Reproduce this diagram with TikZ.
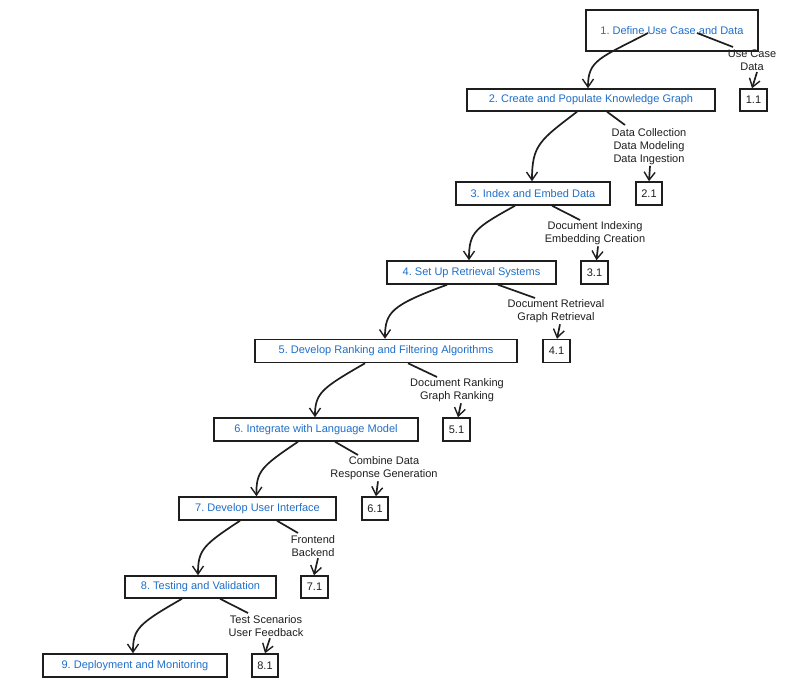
\documentclass[tikz,border=0pt]{standalone}
\usepackage{fontspec}
\setmainfont{Liberation Sans}
\frenchspacing
\usetikzlibrary{arrows.meta,calc}
\definecolor{stepblue}{RGB}{30,110,200}
\definecolor{ink}{RGB}{30,30,30}
\tikzset{
  stepbox/.style={draw=ink, line width=1.5pt, minimum height=23pt, inner sep=0pt, text=stepblue, font=\fontsize{11}{13}\selectfont},
  subbox/.style={draw=ink, line width=1.5pt, minimum width=27pt, minimum height=23pt, inner sep=0pt, text=ink, font=\fontsize{11}{13}\selectfont},
  sublabel/.style={align=center, inner sep=0pt, text=ink, font=\fontsize{11}{13}\selectfont},
  mainarrow/.style={draw=ink, line width=1.7pt, -{Straight Barb[length=8pt,width=11pt,line width=1.4pt]}},
  tick/.style={draw=ink, line width=1.7pt},
  subarrow/.style={draw=ink, line width=1.7pt, -{Straight Barb[length=8pt,width=11pt,line width=1.4pt]}}
}
\begin{document}
\begin{tikzpicture}[x=1pt,y=1pt]
\useasboundingbox (0,0) rectangle (802,-683);
% step boxes
\node[stepbox, minimum width=172pt, minimum height=41pt] (b1) at (672,-30.5) {1. Define Use Case and Data};
\node[stepbox, minimum width=248pt, minimum height=22pt] (b2) at (591,-100) {2. Create and Populate Knowledge Graph};
\node[stepbox, minimum width=154pt] (b3) at (533,-193.5) {3. Index and Embed Data};
\node[stepbox, minimum width=169pt] (b4) at (471.5,-272.5) {4. Set Up Retrieval Systems};
\node[stepbox, minimum width=262pt] (b5) at (386,-351) {5. Develop Ranking and Filtering Algorithms};
\node[stepbox, minimum width=204pt] (b6) at (316,-429.5) {6. Integrate with Language Model};
\node[stepbox, minimum width=157pt] (b7) at (257.5,-508.5) {7. Develop User Interface};
\node[stepbox, minimum width=151pt, minimum height=22pt] (b8) at (200.5,-587) {8. Testing and Validation};
\node[stepbox, minimum width=184pt] (b9) at (135,-665.5) {9. Deployment and Monitoring};
% sub boxes
\node[subbox, minimum height=22pt] (s1) at (753.5,-100) {1.1};
\node[subbox, minimum width=26pt] (s2) at (649,-193.5) {2.1};
\node[subbox] (s3) at (594.5,-272.5) {3.1};
\node[subbox] (s4) at (556.5,-351) {4.1};
\node[subbox] (s5) at (456.5,-429.5) {5.1};
\node[subbox, minimum width=26pt] (s6) at (375,-508.5) {6.1};
\node[subbox, minimum height=22pt] (s7) at (314.5,-587) {7.1};
\node[subbox, minimum width=26pt] (s8) at (265,-665.5) {8.1};
% sub labels
\node[sublabel] (l1) at (752,-60.5) {Use Case\\Data};
\node[sublabel] (l2) at (649,-146.5) {Data Collection\\Data Modeling\\Data Ingestion};
\node[sublabel] (l3) at (595,-233.5) {Document Indexing\\Embedding Creation};
\node[sublabel] (l4) at (556,-311.5) {Document Retrieval\\Graph Retrieval};
\node[sublabel] (l5) at (457,-390.5) {Document Ranking\\Graph Ranking};
\node[sublabel] (l6) at (384,-468.5) {Combine Data\\Response Generation};
\node[sublabel] (l7) at (313,-546.5) {Frontend\\Backend};
\node[sublabel] (l8) at (266,-626.5) {Test Scenarios\\User Feedback};
% main arrows
\draw[mainarrow] ($(b1.center)+(-24,-2.5)$) .. controls (600,-58) and (588,-60) .. ($(b2.north)+(-3,0)$);
\draw[mainarrow] ($(b2.south)+(-14,0)$) .. controls (540,-140) and (532,-145) .. ($(b3.north)+(-1,0)$);
\draw[mainarrow] ($(b3.south)+(-18,0)$) .. controls (475,-228) and (469,-232) .. ($(b4.north)+(-2.5,0)$);
\draw[mainarrow] ($(b4.south)+(-24.5,0)$) .. controls (392,-305) and (385,-312) .. ($(b5.north)+(-1,0)$);
\draw[mainarrow] ($(b5.south)+(-21,0)$) .. controls (322,-388) and (315,-393) .. ($(b6.north)+(-1,0)$);
\draw[mainarrow] ($(b6.south)+(-18,0)$) .. controls (262,-466) and (256,-471) .. ($(b7.north)+(-1,0)$);
\draw[mainarrow] ($(b7.south)+(-17.5,0)$) .. controls (203,-545) and (198,-550) .. ($(b8.north)+(-2.5,0)$);
\draw[mainarrow] ($(b8.south)+(-18.5,0)$) .. controls (138,-624) and (133,-629) .. ($(b9.north)+(-2,0)$);
% ticks from boxes to labels
\draw[tick] ($(b1.center)+(25,-2.5)$) -- (733,-47);
\draw[tick] ($(b2.south)+(16,0)$) -- (625,-125);
\draw[tick] ($(b3.south)+(19,0)$) -- (580,-220);
\draw[tick] ($(b4.south)+(26.5,0)$) -- (535,-298);
\draw[tick] ($(b5.south)+(22,0)$) -- (437,-377);
\draw[tick] ($(b6.south)+(19,0)$) -- (358,-455);
\draw[tick] ($(b7.south)+(19.5,0)$) -- (298,-533);
\draw[tick] ($(b8.south)+(19.5,0)$) -- (248,-613);
% arrows from labels to sub boxes
\draw[subarrow] ($(l1.south)+(5,-1)$) -- ($(s1.north)+(-1.5,0)$);
\draw[subarrow] ($(l2.south)+(1,-1)$) -- (s2.north);
\draw[subarrow] ($(l3.south)+(3,-1)$) -- ($(s3.north)+(2,0)$);
\draw[subarrow] ($(l4.south)+(4,-1)$) -- ($(s4.north)+(0.5,0)$);
\draw[subarrow] ($(l5.south)+(4,-1)$) -- ($(s5.north)+(1.5,0)$);
\draw[subarrow] ($(l6.south)+(-6,-1)$) -- ($(s6.north)+(1,0)$);
\draw[subarrow] ($(l7.south)+(5,-1)$) -- ($(s7.north)+(-0.5,0)$);
\draw[subarrow] ($(l8.south)+(4,-1)$) -- (s8.north);
\end{tikzpicture}
\end{document}
